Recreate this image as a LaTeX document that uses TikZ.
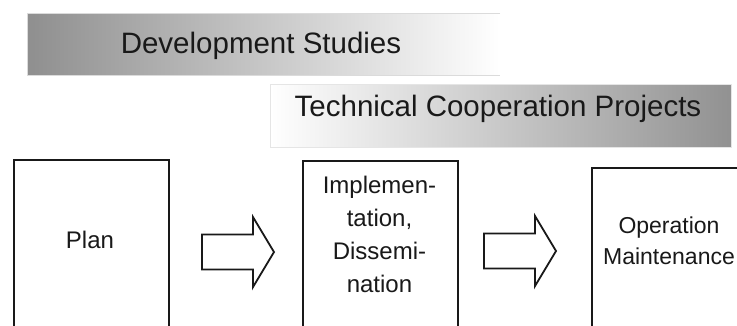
\documentclass[tikz,border=0pt]{standalone}
\usepackage{fontspec}
\setmainfont{Liberation Sans}
\begin{document}
\begin{tikzpicture}[x=1pt,y=-1pt,
  bartext/.style={font=\fontsize{29.5}{34}\selectfont, text=black!90, inner sep=0pt},
  barrim/.style={draw=black!14, line width=0.8pt},
  stagebox/.style={draw=black!90, line width=1.8pt, fill=white, inner sep=0pt},
  stagetext/.style={font=\fontsize{24}{33}\selectfont, text=black!90, inner sep=0pt, align=center},
  blockarrow/.pic={
    \draw[line width=1.8pt, line join=miter, draw=black!90, fill=white]
      (-36,-17.5) -- (15,-17.5) -- (15,-35) -- (36,0) -- (15,35) -- (15,17.5) -- (-36,17.5) -- cycle;
  }]
  \useasboundingbox (0,0) rectangle (737,325);
  \clip (0,0) rectangle (737,325);

  % top band: studies, fading to the right
  \shade[left color=black!44, right color=white] (27,13) rectangle (500,75);
  \draw[barrim] (500,13) -- (27,13) -- (27,75) -- (500,75);
  \node[bartext, anchor=base] (studies) at (261,53) {Development Studies};

  % second band: projects, darkening to the right
  \shade[left color=white, right color=black!43] (270,84) rectangle (731,147);
  \draw[barrim, draw=black!10] (270,84) rectangle (731,147);
  \node[bartext, anchor=base] (projects) at (498,116) {Technical Cooperation Projects};

  % stage boxes
  \node[stagebox, anchor=north west, minimum width=155pt, minimum height=190pt] (plan) at (13,159) {};
  \node[stagebox, anchor=north west, minimum width=155pt, minimum height=190pt] (impl) at (302,160) {};
  \node[stagebox, anchor=north west, minimum width=200pt, minimum height=190pt] (oper) at (591,167) {};

  \node[stagetext, anchor=base] (plantext) at (90,248) {Plan};
  \node[stagetext, anchor=north] (impltext) at (379.5,176) {Implemen-\\tation,\\Dissemi-\\nation};
  \node[stagetext, anchor=north, font=\fontsize{23}{31}\selectfont] (opertext) at (669,217) {Operation\\Maintenance};

  % block arrows between stages
  \pic (arrowA) at (238,252) {blockarrow};
  \pic (arrowB) at (520,251) {blockarrow};
\end{tikzpicture}
\end{document}
